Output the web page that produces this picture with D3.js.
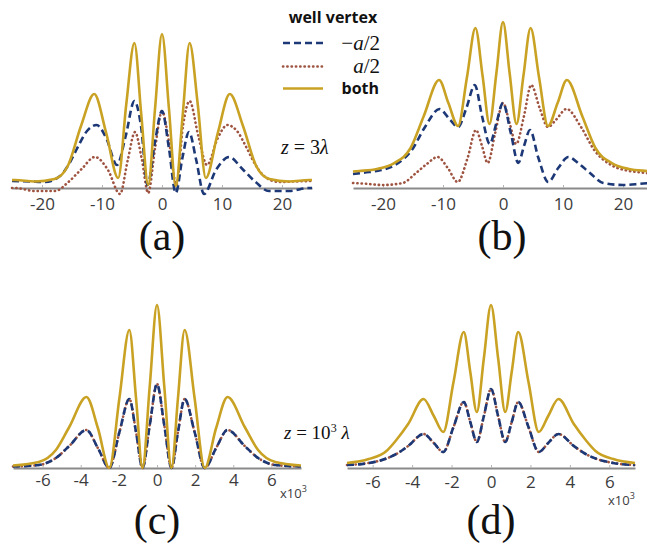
<!DOCTYPE html>
<html>
<head>
<meta charset="utf-8">
<script src="https://cdn.jsdelivr.net/npm/d3@7"></script>
<style>
  body { margin: 0; background: #fff; }
  svg { display: block; }
  .tick-label { font-family: "Open Sans", sans-serif; font-size: 17px; fill: #3c3c3c; }
  .serif { font-family: "Liberation Serif", "Times New Roman", serif; }
  .bold-sans { font-family: "Open Sans", sans-serif; font-weight: bold; }
</style>
</head>
<body>
<svg width="647" height="547"></svg>
<script>
// x positions and intensities (a.u.)

const ticksAB = [-20, -10, 0, 10, 20];
const ticksCD = [-6, -4, -2, 0, 2, 4, 6];

// (a) z = 3 lambda
const goldA = [[-25,8],[-24.5,8],[-21.2,6.5],[-17.9,9],[-15.7,22],[-13.5,62],[-11.3,94],[-9.3,55],[-7.3,10],[-5.95,84],[-4.6,145],[-3.45,73],[-2.3,3],[-1.15,80],[0,154],
  [1.15,80],[2.3,2],[3.45,73],[4.6,145],[5.95,84],[7.3,10],[9.3,55],[11.3,94],[13.5,62],[15.7,22],[17.9,9],[21.2,6.5],[24.5,8],[25,8]];
const blueA = [[-25,7],[-22,6.5],[-19.5,6],[-17,12],[-15.5,24],[-14.2,39],[-12.5,57],[-10.9,63],[-9.3,50],[-7.5,23],[-6.05,52],[-4.6,87],[-3.5,62],[-2.4,3],[-1.2,45],[0,77],
  [1.15,40],[2.3,-5],[3.4,30],[4.5,56],[5.7,28],[7.0,-6],[9.0,18],[11.2,31],[13.4,19],[15.6,6],[17.8,-3],[21.2,-3],[24.5,0],[25,0]];
const dottedA = [[-25,0],[-24.5,0],[-21.2,-3],[-17.8,-3],[-15.6,6],[-13.4,19],[-11.2,31],[-9.0,18],[-7.0,-6],[-5.7,28],[-4.5,56],[-3.4,30],[-2.3,-5],[-1.15,40],[0,77],
  [1.2,45],[2.4,3],[3.5,62],[4.6,87],[6.05,52],[7.5,23],[9.3,50],[10.9,63],[12.5,57],[14.2,39],[15.5,24],[17,12],[19.5,6],[22,6.5],[25,7]];

// (b) z = 3 lambda
const goldB = [[-25,16.5],[-24,17],[-21,19],[-18.2,24.7],[-15.4,40],[-13.2,72],[-10.65,108],[-9.1,85],[-7.5,62],[-6.0,111],[-4.6,160],[-3.4,112],[-2.25,64],[-1.1,115],[0,166],
  [1.1,115],[2.25,64],[3.4,112],[4.6,160],[6.0,111],[7.5,62],[9.1,85],[10.65,108],[13.2,72],[15.4,40],[18.2,24.7],[21,19],[24,17],[25,16.5]];
const blueB = [[-25,14],[-23,15.5],[-20.8,17.3],[-18,23],[-15.2,38],[-13,61],[-10.6,79],[-8.8,68],[-7.5,61],[-6.1,80],[-4.7,103],[-3.5,72],[-2.2,44],[-1.1,65],[0,85],
  [1.3,55],[2.55,25],[3.5,42],[4.5,58],[5.9,30],[7.55,6],[9.2,20],[10.9,31],[12.7,24],[14.5,15],[16.7,5],[20,3],[23.4,4.5],[25,5]];
const dottedB = [[-25,5],[-23.4,4.5],[-20,3],[-16.7,5],[-14.5,15],[-12.7,24],[-10.9,31],[-9.2,20],[-7.55,6],[-5.9,30],[-4.5,58],[-3.5,42],[-2.55,25],[-1.3,55],[0,85],
  [1.1,65],[2.2,44],[3.5,72],[4.7,103],[6.1,80],[7.5,61],[8.8,68],[10.6,79],[13,61],[15.2,38],[18,23],[20.8,17.3],[23,15.5],[25,14]];

// (c) z = 10^3 lambda  (x in units of 10^3)
const goldC = [[-7.55,2.5],[-6.2,6],[-5.3,18],[-4.6,41],[-3.7,71],[-3.1,40],[-2.5,0],[-1.97,70],[-1.45,138],[-1.1,70],[-0.76,0],[-0.38,82],[0,163],
  [0.38,82],[0.76,0],[1.1,70],[1.45,138],[1.97,70],[2.5,0],[3.1,40],[3.7,71],[4.6,41],[5.3,18],[6.2,6],[7.55,2.5]];
const blueC = [[-7.55,1.5],[-6.2,3],[-5.3,10],[-4.6,22],[-3.7,38],[-3.1,20],[-2.5,0],[-1.97,36],[-1.45,69],[-1.1,36],[-0.76,0],[-0.38,43],[0,84],
  [0.38,43],[0.76,0],[1.1,36],[1.45,69],[1.97,36],[2.5,0],[3.1,20],[3.7,38],[4.6,22],[5.3,10],[6.2,3],[7.55,1.5]];
const dottedC = [[-7.55,1.5],[-6.2,3],[-5.3,10],[-4.6,22],[-3.7,38],[-3.1,20],[-2.5,0],[-1.97,36],[-1.45,69],[-1.1,36],[-0.76,0],[-0.38,43],[0,84],
  [0.38,43],[0.76,0],[1.1,36],[1.45,69],[1.97,36],[2.5,0],[3.1,20],[3.7,38],[4.6,22],[5.3,10],[6.2,3],[7.55,1.5]];

// (d) z = 10^3 lambda
const goldD = [[-7.3,5],[-6.2,9],[-5.3,17],[-4.8,28],[-4.2,44],[-3.42,69],[-2.9,52],[-2.42,36],[-1.9,86],[-1.38,136],[-1.05,96],[-0.72,56],[-0.36,110],[0,163],
  [0.36,110],[0.72,56],[1.05,96],[1.38,136],[1.9,86],[2.42,36],[2.9,52],[3.42,69],[4.2,44],[4.8,28],[5.3,17],[6.2,9],[7.3,5]];
const blueD = [[-7.3,3],[-6.2,5],[-5.3,9.5],[-4.8,14],[-4.2,22],[-3.42,34],[-2.9,25],[-2.42,16],[-1.9,41],[-1.38,66],[-1.05,46],[-0.72,26],[-0.36,52],[0,79],
  [0.36,52],[0.72,26],[1.05,46],[1.38,66],[1.9,41],[2.42,16],[2.9,25],[3.42,34],[4.2,22],[4.8,14],[5.3,9.5],[6.2,5],[7.3,3]];
const dottedD = [[-7.3,3],[-6.2,5],[-5.3,9.5],[-4.8,14],[-4.2,22],[-3.42,34],[-2.9,25],[-2.42,16],[-1.9,41],[-1.38,66],[-1.05,46],[-0.72,26],[-0.36,52],[0,79],
  [0.36,52],[0.72,26],[1.05,46],[1.38,66],[1.9,41],[2.42,16],[2.9,25],[3.42,34],[4.2,22],[4.8,14],[5.3,9.5],[6.2,5],[7.3,3]];

const GOLD = '#c9a224', BLUE = '#1d3877', BROWN = '#9e5440', AXIS = '#8a8a8a';

const svg = d3.select('svg');
svg.append('rect').attr('width', 647).attr('height', 547).attr('fill', '#fff');

const panels = [
  { gold: goldA, blue: blueA, dotted: dottedA, xDomain: [-25, 25], xRange: [12, 312], axisY: 188, ticks: ticksAB, pad: 10, label: '(a)', lx: 162, ly: 250 },
  { gold: goldB, blue: blueB, dotted: dottedB, xDomain: [-25, 25], xRange: [353, 653], axisY: 188, ticks: ticksAB, pad: 10, label: '(b)', lx: 502, ly: 250 },
  { gold: goldC, blue: blueC, dotted: dottedC, xDomain: [-7.55, 7.55], xRange: [13, 301], axisY: 468, ticks: ticksCD, pad: 6, label: '(c)', lx: 157, ly: 534, exp: [280, 498] },
  { gold: goldD, blue: blueD, dotted: dottedD, xDomain: [-7.3, 7.3], xRange: [347, 635], axisY: 468, ticks: ticksCD, pad: 8, label: '(d)', lx: 491, ly: 534, exp: [608, 505] }
];

panels.forEach(p => {
  const x = d3.scaleLinear().domain(p.xDomain).range(p.xRange);
  const y = d3.scaleLinear().domain([0, 160]).range([p.axisY, p.axisY - 160]);
  const g = svg.append('g');

  const axis = g.append('g')
    .attr('transform', `translate(0,${p.axisY})`)
    .call(d3.axisBottom(x).tickValues(p.ticks).tickSize(-3).tickSizeOuter(0)
      .tickPadding(p.pad).tickFormat(d => String(d)));
  axis.select('.domain').attr('stroke', AXIS).attr('stroke-width', 2);
  axis.selectAll('.tick line').attr('stroke', '#b5b5b5').attr('stroke-width', 1);
  axis.selectAll('.tick text').attr('class', 'tick-label').attr('fill', null);

  const line = d3.line().x(d => x(d[0])).y(d => y(d[1])).curve(d3.curveMonotoneX);

  g.append('path').attr('d', line(p.dotted))
    .attr('fill', 'none').attr('stroke', BROWN).attr('stroke-width', 2.6)
    .attr('stroke-linecap', 'round').attr('stroke-dasharray', '0.3,4');
  g.append('path').attr('d', line(p.blue))
    .attr('fill', 'none').attr('stroke', BLUE).attr('stroke-width', 2.6)
    .attr('stroke-dasharray', '7,4');
  g.append('path').attr('d', line(p.gold))
    .attr('fill', 'none').attr('stroke', GOLD).attr('stroke-width', 2.6);

  g.append('text').attr('class', 'serif')
    .attr('x', p.lx).attr('y', p.ly).attr('text-anchor', 'middle')
    .attr('font-size', 42).attr('fill', '#111').text(p.label);

  if (p.exp) {
    const t = g.append('text').attr('x', p.exp[0]).attr('y', p.exp[1])
      .attr('font-family', '"Open Sans", sans-serif').attr('font-size', 13).attr('fill', '#3c3c3c');
    t.append('tspan').text('x10');
    t.append('tspan').attr('dy', -6).attr('font-size', 9).text('3');
  }
});

// legend
const legend = svg.append('g');
legend.append('text').attr('class', 'bold-sans')
  .attr('x', 333).attr('y', 23).attr('text-anchor', 'middle')
  .attr('font-size', 16).attr('fill', '#111').text('well vertex');

const legendItems = [
  { y: 43, stroke: BLUE, dash: '7,4', cap: 'butt' },
  { y: 66.5, stroke: BROWN, dash: '0.3,4', cap: 'round' },
  { y: 88.5, stroke: GOLD, dash: null, cap: 'butt' }
];
legendItems.forEach(it => {
  legend.append('line').attr('x1', 283).attr('x2', 323).attr('y1', it.y).attr('y2', it.y)
    .attr('stroke', it.stroke).attr('stroke-width', 2.6)
    .attr('stroke-dasharray', it.dash).attr('stroke-linecap', it.cap);
});

const l1 = legend.append('text').attr('class', 'serif').attr('x', 380).attr('y', 50)
  .attr('text-anchor', 'end').attr('font-size', 21).attr('fill', '#111');
l1.append('tspan').text('\u2212');
l1.append('tspan').attr('font-style', 'italic').text('a');
l1.append('tspan').text('/2');

const l2 = legend.append('text').attr('class', 'serif').attr('x', 380).attr('y', 73)
  .attr('text-anchor', 'end').attr('font-size', 21).attr('fill', '#111');
l2.append('tspan').attr('font-style', 'italic').text('a');
l2.append('tspan').text('/2');

legend.append('text').attr('class', 'bold-sans').attr('x', 379).attr('y', 94)
  .attr('text-anchor', 'end').attr('font-size', 16).attr('fill', '#111').text('both');

// propagation distance labels
const z1 = svg.append('text').attr('class', 'serif').attr('x', 281).attr('y', 154)
  .attr('font-size', 20).attr('fill', '#111');
z1.append('tspan').attr('font-style', 'italic').text('z');
z1.append('tspan').text(' = 3');
z1.append('tspan').attr('font-style', 'italic').text('\u03bb');

const z2 = svg.append('text').attr('class', 'serif').attr('x', 284).attr('y', 439)
  .attr('font-size', 19).attr('fill', '#111');
z2.append('tspan').attr('font-style', 'italic').text('z');
z2.append('tspan').text(' = 10');
z2.append('tspan').attr('dy', -7).attr('font-size', 12).text('3');
z2.append('tspan').attr('dy', 7).attr('font-style', 'italic').text(' \u03bb');
</script>
</body>
</html>
